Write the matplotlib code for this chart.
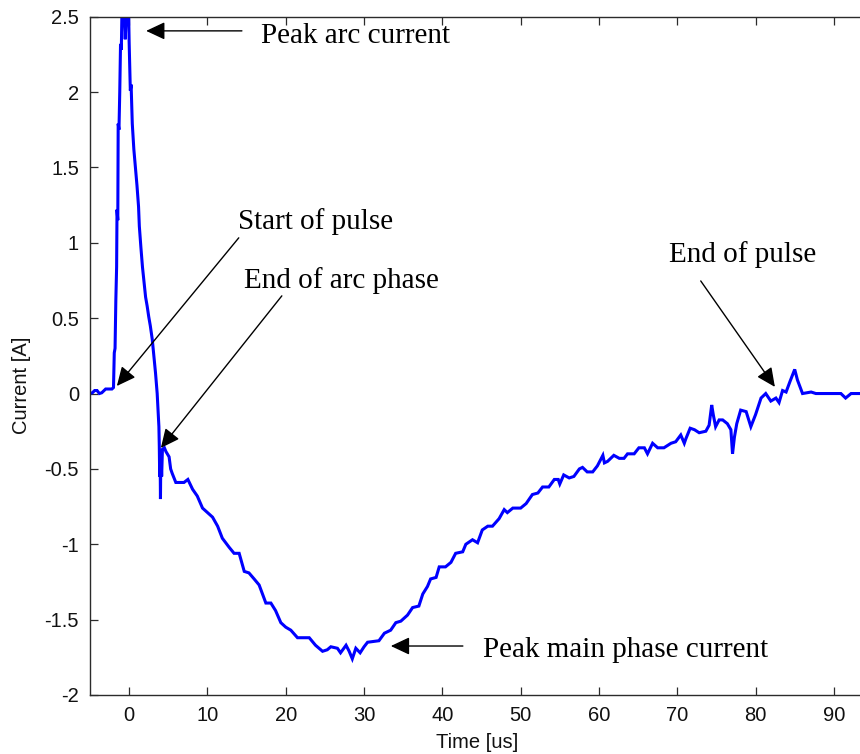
import matplotlib
matplotlib.use("Agg")
import matplotlib.pyplot as plt

# ---- data ----
time_us = [-5.0, -4.7, -4.4, -4.1, -3.8, -3.5, -3.2, -3.0, -2.6, -2.2, -2.0, -1.9, -1.8, -1.7, -1.6,
           -1.55, -1.45, -1.4, -1.3, -1.2, -1.1, -1.0, -0.9, -0.7, -0.5, -0.3, -0.1, 0.0, 0.15, 0.25,
           0.4, 0.6, 0.8, 1.0, 1.2, 1.3, 1.5, 1.7, 1.9, 2.1, 2.3, 2.5, 2.7, 2.95, 3.15, 3.37, 3.58,
           3.8, 3.85, 3.9, 3.95, 4.0, 4.05, 4.15, 4.25, 4.5, 4.7, 5.1, 5.3, 5.5, 5.96, 6.5, 7.0, 7.5,
           8.1, 8.7, 9.37, 10.0, 10.65, 11.3, 11.9, 12.77, 13.4, 14.05, 14.7, 15.3, 15.96, 16.6,
           17.46, 18.1, 18.7, 19.37, 20.0, 20.65, 21.5, 22.3, 23.0, 23.8, 24.7, 25.3, 25.76, 26.6,
           27.0, 27.7, 28.1, 28.5, 28.95, 29.5, 30.0, 30.45, 31.9, 32.6, 33.4, 34.06, 34.7, 35.55,
           36.2, 37.0, 37.5, 38.1, 38.5, 39.2, 39.6, 40.4, 41.1, 41.7, 42.6, 43.0, 43.85, 44.5,
           45.1, 45.8, 46.4, 47.25, 47.9, 48.3, 49.0, 50.0, 50.7, 51.5, 52.2, 52.8, 53.6, 54.3,
           54.8, 55.0, 55.5, 56.2, 56.8, 57.5, 57.9, 58.5, 59.2, 59.8, 60.5, 60.7, 61.1, 61.9,
           62.6, 63.2, 63.65, 64.5, 65.1, 65.8, 66.2, 66.85, 67.5, 68.3, 69.2, 69.8, 70.45, 70.9,
           71.1, 71.65, 72.2, 72.8, 73.65, 74.07, 74.4, 74.6, 74.9, 75.35, 75.8, 76.4, 76.85,
           77.06, 77.3, 77.6, 78.1, 78.8, 79.4, 80.0, 80.7, 81.3, 81.95, 82.6, 83.0, 83.45, 83.9,
           84.4, 85.0, 85.35, 86.0, 87.1, 87.7, 90.9, 91.5, 92.2, 95.0]
current_a = [0.0, 0.005, 0.02, 0.02, 0.0, 0.005, 0.02, 0.03, 0.03, 0.03, 0.04, 0.27, 0.3, 0.62, 0.84,
             1.22, 1.15, 1.79, 1.75, 2.0, 2.32, 2.28, 2.6, 2.62, 2.35, 2.6, 2.62, 2.33, 2.01, 2.05,
             1.79, 1.62, 1.5, 1.38, 1.24, 1.11, 0.97, 0.84, 0.74, 0.64, 0.58, 0.51, 0.45, 0.36, 0.25,
             0.135, 0.0, -0.22, -0.35, -0.55, -0.40, -0.70, -0.38, -0.55, -0.37, -0.36, -0.385,
             -0.42, -0.50, -0.53, -0.59, -0.59, -0.59, -0.57, -0.635, -0.68, -0.76, -0.79, -0.82,
             -0.88, -0.96, -1.02, -1.06, -1.06, -1.18, -1.19, -1.23, -1.27, -1.39, -1.39, -1.44,
             -1.52, -1.55, -1.57, -1.62, -1.62, -1.62, -1.67, -1.71, -1.70, -1.68, -1.69, -1.72,
             -1.67, -1.71, -1.76, -1.69, -1.72, -1.68, -1.65, -1.64, -1.59, -1.57, -1.52, -1.51,
             -1.47, -1.42, -1.41, -1.33, -1.28, -1.23, -1.22, -1.15, -1.15, -1.12, -1.06, -1.05,
             -1.00, -0.97, -0.99, -0.905, -0.88, -0.88, -0.83, -0.77, -0.79, -0.76, -0.76, -0.73,
             -0.67, -0.66, -0.62, -0.62, -0.57, -0.57, -0.60, -0.54, -0.56, -0.55, -0.50, -0.49,
             -0.52, -0.52, -0.48, -0.41, -0.46, -0.45, -0.41, -0.43, -0.43, -0.40, -0.40, -0.36,
             -0.36, -0.40, -0.33, -0.36, -0.36, -0.33, -0.32, -0.275, -0.33, -0.30, -0.23, -0.24,
             -0.26, -0.25, -0.21, -0.076, -0.14, -0.22, -0.175, -0.175, -0.20, -0.24, -0.40, -0.29,
             -0.20, -0.11, -0.12, -0.22, -0.14, -0.03, 0.00, -0.05, -0.03, -0.06, 0.02, 0.01, 0.08,
             0.16, 0.09, 0.00, 0.01, 0.0, 0.0, -0.03, 0.0, 0.0]

x_ticks = [0, 10, 20, 30, 40, 50, 60, 70, 80, 90]
y_ticks = [-2, -1.5, -1, -0.5, 0, 0.5, 1, 1.5, 2, 2.5]
y_tick_labels = ["-2", "-1.5", "-1", "-0.5", "0", "0.5", "1", "1.5", "2", "2.5"]

# annotation labels: (text, text position, arrow tail, arrow tip) in data coords
annotations = [
    ("Peak arc current", (16.9, 2.324), (14.4, 2.406), (2.17, 2.406)),
    ("Start of pulse", (13.88, 1.092), (14.0, 1.033), (-1.57, 0.050)),
    ("End of arc phase", (14.65, 0.701), (19.5, 0.648), (4.05, -0.361)),
    ("End of pulse", (68.93, 0.873), (73.0, 0.747), (82.47, 0.044)),
    ("Peak main phase current", (45.18, -1.748), (42.62, -1.675), (33.42, -1.675)),
]

# ---- figure ----
W, H = 860, 754
fig = plt.figure(figsize=(W / 100, H / 100), dpi=100)
left_px, bottom_px, top_px = 90, 695, 16.7
ax_w_px = 100 * 7.83
ax = fig.add_axes([left_px / W, (H - bottom_px) / H, ax_w_px / W, (bottom_px - top_px) / H])

ax.plot(time_us, current_a, color=(0, 0, 1), lw=2.2, solid_joinstyle="miter", clip_on=True)

ax.set_xlim(-5, 95)
ax.set_ylim(-2, 2.5)
ax.set_xticks(x_ticks)
ax.set_yticks(y_ticks)
ax.set_yticklabels(y_tick_labels)

spine_col = "#2b2b2b"
for s in ax.spines.values():
    s.set_color(spine_col)
    s.set_linewidth(1.0)
ax.spines["right"].set_visible(False)
ax.tick_params(direction="in", length=6, width=0.9, color=spine_col,
               top=True, right=False, labelsize=14.5, pad=8,
               labelfontfamily="Liberation Sans", labelcolor="#111111")

ax.set_xlabel("Time [us]", fontsize=14.5, family="Liberation Sans", color="#111111", labelpad=4)
ax.xaxis.set_label_coords((477 - left_px) / ax_w_px, -(742 - bottom_px) / (bottom_px - top_px),
                          transform=ax.transAxes)
ax.set_ylabel("Current [A]", fontsize=14.5, family="Liberation Sans", color="#111111")
ax.yaxis.set_label_coords(-(left_px - 22) / ax_w_px, (bottom_px - 385) / (bottom_px - top_px),
                          transform=ax.transAxes)
ax.xaxis.label.set_va("center")
ax.yaxis.label.set_va("center")

for text, tpos, tail, tip in annotations:
    ax.text(tpos[0], tpos[1], text, fontsize=21, family="Liberation Serif",
            ha="left", va="baseline", color="black", clip_on=False)
    ax.annotate("", xy=tip, xytext=tail, xycoords="data", textcoords="data",
                arrowprops=dict(arrowstyle="-|>,head_length=1.15,head_width=0.54",
                                mutation_scale=10, lw=1.0, color="black",
                                shrinkA=0, shrinkB=0), annotation_clip=False)

fig.savefig("out.png", dpi=100)
